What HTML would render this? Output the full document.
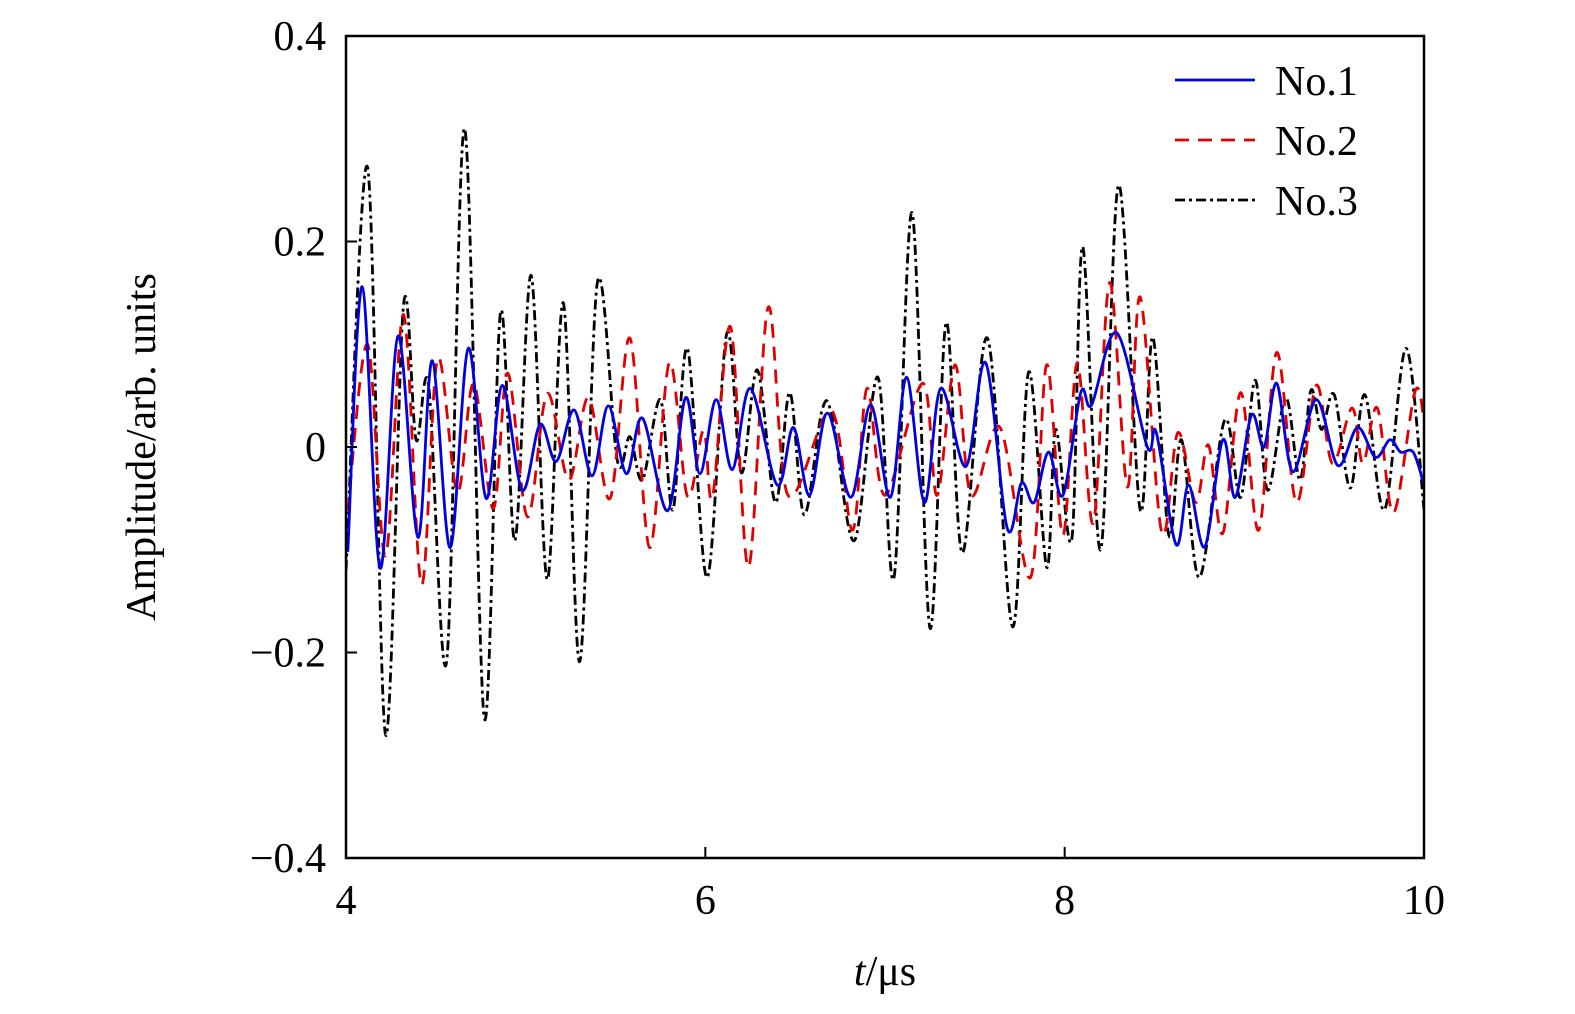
<!DOCTYPE html>
<html><head><meta charset="utf-8"><style>
body{margin:0;background:#fff}
svg{display:block}
text{font-family:"Liberation Serif",serif;fill:#000}
</style></head><body>
<svg id="chart" width="1575" height="1014" viewBox="0 0 1575 1014">
<defs><clipPath id="clip"><rect x="346" y="36" width="1078" height="822"/></clipPath></defs>
<g id="series" clip-path="url(#clip)"></g>
<rect x="346" y="36" width="1078" height="822" fill="none" stroke="#000" stroke-width="2.5"/>
<g id="axes"></g>
<text x="885" y="985" font-size="42" text-anchor="middle"><tspan font-style="italic">t</tspan>/μs</text>
<text transform="translate(155,447) rotate(-90)" font-size="42" text-anchor="middle">Amplitude/arb. units</text>
<g>
<line x1="1175" y1="80" x2="1255" y2="80" stroke="#0000e0" stroke-width="2.8"/>
<text x="1275" y="95" font-size="42">No.1</text>
<line x1="1175" y1="140" x2="1255" y2="140" stroke="#e00000" stroke-width="2.8" stroke-dasharray="14 9"/>
<text x="1275" y="155" font-size="42">No.2</text>
<line x1="1175" y1="200" x2="1255" y2="200" stroke="#000" stroke-width="2.8" stroke-dasharray="10 4 3 4"/>
<text x="1275" y="215" font-size="42">No.3</text>
</g>
</svg>
<script>
const xTicks=[4,6,8,10];
const xTickLabels=["4","6","8","10"];
const yTicks=[0.4,0.2,0,-0.2,-0.4];
const yTickLabels=["0.4","0.2","0","\u22120.2","\u22120.4"];
const t1=[4.01,4.09,4.19,4.29,4.40,4.48,4.58,4.68,4.78,4.87,4.98,5.08,5.17,5.27,5.37,5.46,5.56,5.65,5.79,5.89,5.97,6.06,6.15,6.25,6.40,6.49,6.58,6.68,6.81,6.92,7.03,7.12,7.22,7.31,7.45,7.56,7.68,7.76,7.83,7.91,7.99,8.09,8.15,8.29,8.46,8.51,8.62,8.69,8.78,8.88,8.95,9.04,9.11,9.18,9.27,9.40,9.52,9.63,9.73,9.81,9.87,9.94,10.00];
const a1=[-0.102,0.156,-0.118,0.108,-0.088,0.084,-0.098,0.096,-0.050,0.060,-0.042,0.022,-0.014,0.036,-0.028,0.040,-0.026,0.028,-0.062,0.048,-0.026,0.046,-0.022,0.057,-0.037,0.019,-0.047,0.033,-0.049,0.041,-0.049,0.068,-0.054,0.057,-0.019,0.082,-0.079,-0.035,-0.054,-0.005,-0.047,0.053,0.041,0.111,0.000,0.014,-0.095,-0.037,-0.097,0.007,-0.049,0.031,0.000,0.062,-0.024,0.046,-0.018,0.019,-0.010,0.007,-0.005,-0.005,-0.037];
const t2=[4.01,4.12,4.22,4.32,4.42,4.51,4.62,4.71,4.82,4.90,5.01,5.12,5.24,5.35,5.47,5.58,5.69,5.80,5.90,5.99,6.04,6.14,6.24,6.35,6.46,6.70,6.82,6.90,7.00,7.21,7.29,7.39,7.48,7.64,7.81,7.90,7.99,8.07,8.16,8.25,8.35,8.42,8.54,8.63,8.73,8.80,8.88,8.98,9.08,9.18,9.29,9.40,9.49,9.60,9.66,9.74,9.83,9.95,10.00];
const a2=[-0.062,0.100,-0.106,0.129,-0.134,0.086,-0.044,0.062,-0.060,0.072,-0.068,0.052,-0.032,0.048,-0.050,0.106,-0.098,0.082,-0.048,0.016,-0.049,0.117,-0.117,0.136,-0.047,0.036,-0.081,0.057,-0.047,0.062,-0.047,0.080,-0.047,0.019,-0.127,0.080,-0.086,0.082,-0.074,0.160,-0.039,0.146,-0.083,0.014,-0.054,0.002,-0.084,0.053,-0.081,0.092,-0.054,0.060,-0.016,0.038,-0.016,0.038,-0.064,0.054,0.026];
const t3=[4.00,4.12,4.22,4.32,4.39,4.46,4.56,4.66,4.77,4.86,4.94,5.03,5.12,5.21,5.30,5.40,5.51,5.58,5.65,5.75,5.82,5.90,6.01,6.12,6.20,6.29,6.39,6.47,6.55,6.65,6.71,6.83,6.96,7.05,7.15,7.25,7.34,7.43,7.57,7.71,7.80,7.90,7.95,8.04,8.10,8.20,8.30,8.42,8.49,8.58,8.65,8.75,8.89,8.98,9.06,9.13,9.23,9.31,9.37,9.43,9.50,9.59,9.67,9.78,9.90,10.00];
const a3=[-0.120,0.272,-0.280,0.138,0.007,0.060,-0.209,0.310,-0.264,0.131,-0.091,0.167,-0.129,0.140,-0.209,0.161,-0.013,0.010,-0.032,0.046,-0.061,0.096,-0.127,0.111,-0.025,0.075,-0.054,0.053,-0.066,0.036,0.026,-0.091,0.068,-0.127,0.228,-0.176,0.121,-0.103,0.106,-0.175,0.073,-0.117,0.017,-0.089,0.195,-0.100,0.255,-0.061,0.107,-0.086,0.007,-0.127,0.026,-0.049,0.065,-0.042,0.048,-0.032,0.055,0.017,0.051,-0.040,0.051,-0.061,0.096,-0.061];

const X0=346,X1=1424,Y0=858,Y1=36;
function xs(v){return X0+(v-4)/6*(X1-X0);}
function ys(v){return Y0-(v+0.4)/0.8*(Y0-Y1);}
const NS='http://www.w3.org/2000/svg';
function mk(tag,attrs,parent){const e=document.createElementNS(NS,tag);for(const k in attrs)e.setAttribute(k,attrs[k]);parent.appendChild(e);return e;}
function pathFrom(ts,as){
  const p=ts.map((t,i)=>[xs(t),ys(as[i])]);
  let d='M'+p[0][0].toFixed(1)+','+p[0][1].toFixed(1);
  for(let i=0;i<p.length-1;i++){
    const p0=p[Math.max(0,i-1)],p1=p[i],p2=p[i+1],p3=p[Math.min(p.length-1,i+2)];
    const c1=[p1[0]+(p2[0]-p0[0])/6,p1[1]+(p2[1]-p0[1])/6];
    const c2=[p2[0]-(p3[0]-p1[0])/6,p2[1]-(p3[1]-p1[1])/6];
    d+='C'+c1[0].toFixed(1)+','+c1[1].toFixed(1)+' '+c2[0].toFixed(1)+','+c2[1].toFixed(1)+' '+p2[0].toFixed(1)+','+p2[1].toFixed(1);
  }
  return d;
}
const sg=document.getElementById('series');
const l3=mk('path',{d:pathFrom(t3,a3),fill:'none',stroke:'#000','stroke-width':2.8,'stroke-dasharray':'10 4 3 4'},sg);


const l2=mk('path',{d:pathFrom(t2,a2),fill:'none',stroke:'#e00000','stroke-width':2.8,'stroke-dasharray':'14 9'},sg);


const l1=mk('path',{d:pathFrom(t1,a1),fill:'none',stroke:'#0000e0','stroke-width':2.8},sg);



const ax=document.getElementById('axes');
xTicks.forEach((v,i)=>{
  const x=xs(v);
  const tk=mk('line',{x1:x,y1:Y0,x2:x,y2:Y0-11,stroke:'#000','stroke-width':2},ax);
  
  
  const tl=mk('text',{x:x,y:914,'font-size':42,'text-anchor':'middle'},ax);
  tl.textContent=xTickLabels[i];
  
  
});
yTicks.forEach((v,i)=>{
  const y=ys(v);
  const tk=mk('line',{x1:X0,y1:y,x2:X0+11,y2:y,stroke:'#000','stroke-width':2},ax);
  
  
  const tl=mk('text',{x:326,y:y+14,'font-size':42,'text-anchor':'end'},ax);
  tl.textContent=yTickLabels[i];
  
  
});
</script>
</body></html>
